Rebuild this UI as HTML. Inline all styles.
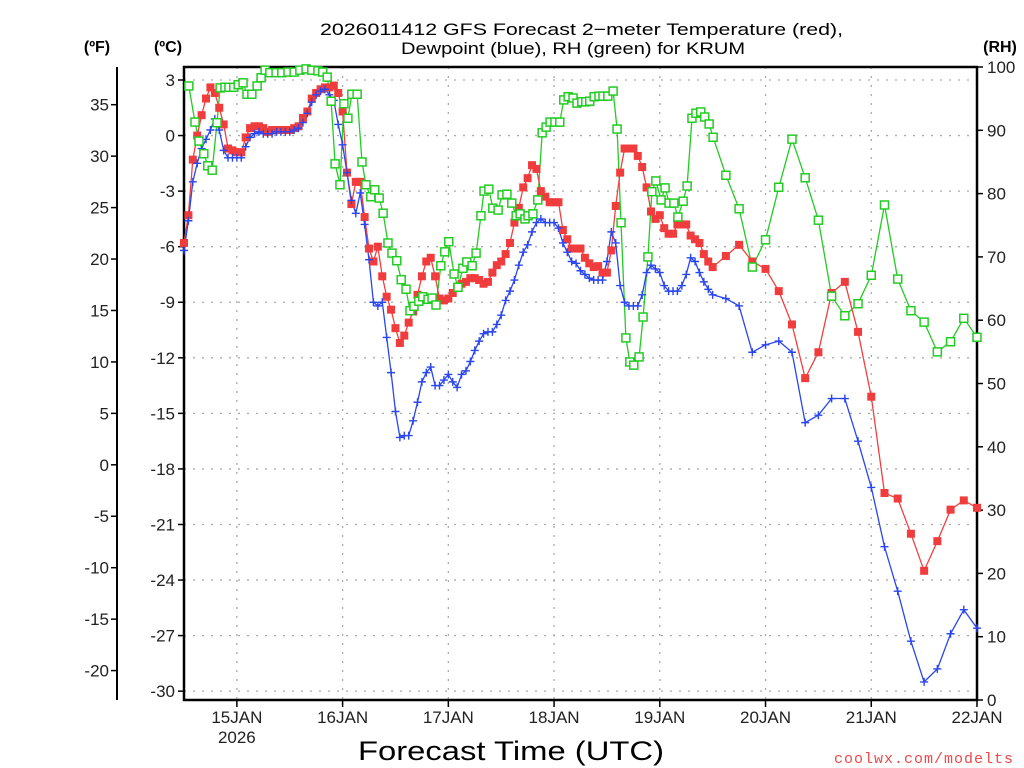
<!DOCTYPE html>
<html><head><meta charset="utf-8"><title>GFS Meteogram KRUM</title>
<style>
html,body{margin:0;padding:0;background:#fff;}
svg{display:block;font-family:"Liberation Sans","DejaVu Sans",sans-serif;}
</style></head>
<body>
<svg id="chart" width="1024" height="768" viewBox="0 0 1024 768" xmlns="http://www.w3.org/2000/svg">
<g id="grid"></g>
<g id="axes"></g>
<g id="series"></g>
<g font-size="17" fill="#000">
<text x="320" y="35" textLength="523" lengthAdjust="spacingAndGlyphs">2026011412 GFS Forecast 2−meter Temperature (red),</text>
<text x="401" y="54" textLength="344" lengthAdjust="spacingAndGlyphs">Dewpoint (blue), RH (green) for KRUM</text>
</g>
<text x="97" y="52" font-size="16" font-weight="bold" text-anchor="middle">(ºF)</text>
<text x="168" y="52" font-size="16" font-weight="bold" text-anchor="middle">(ºC)</text>
<text x="1000" y="52" font-size="16" font-weight="bold" text-anchor="middle">(RH)</text>
<text x="358" y="760" font-size="27" textLength="306" lengthAdjust="spacingAndGlyphs">Forecast Time (UTC)</text>
<text x="1014" y="763" font-size="15" fill="#f04848" text-anchor="end" font-family="Liberation Mono, monospace" letter-spacing="1">coolwx.com/modelts</text>
</svg>
<script>
// ---- data ----
const tempHours = [0,1,2,3,4,5,6,7,8,9,10,11,12,13,14,15,16,17,18,19,20,21,22,23,24,25,26,27,28,29,30,31,32,33,34,35,36,37,38,39,40,41,42,43,44,45,46,47,48,49,50,51,52,53,54,55,56,57,58,59,60,61,62,63,64,65,66,67,68,69,70,71,72,73,74,75,76,77,78,79,80,81,82,83,84,85,86,87,88,89,90,91,92,93,94,95,96,97,98,99,100,101,102,103,104,105,106,107,108,109,110,111,112,113,114,115,116,117,118,119,120,123,126,129,132,135,138,141,144,147,150,153,156,159,162,165,168,171,174,177,180];
const tempC = [-5.8,-4.3,-1.3,0.0,1.1,2.0,2.6,2.3,1.5,0.6,-0.7,-0.8,-0.9,-0.9,-0.1,0.4,0.5,0.5,0.4,0.2,0.3,0.3,0.3,0.3,0.3,0.4,0.5,0.95,1.3,2.0,2.3,2.5,2.6,2.6,2.7,2.3,1.3,-2.0,-3.7,-2.5,-2.5,-4.4,-6.1,-6.8,-6.0,-7.6,-8.7,-9.4,-10.4,-11.2,-10.8,-10.1,-9.5,-8.6,-7.6,-6.8,-6.6,-7.6,-8.8,-8.9,-8.8,-8.5,-8.2,-8.0,-7.9,-7.7,-7.7,-7.8,-8.0,-7.9,-7.4,-7.0,-6.8,-6.4,-5.8,-4.7,-3.9,-2.8,-2.3,-1.6,-1.8,-3.0,-3.3,-3.6,-3.6,-3.6,-5.1,-5.6,-6.1,-6.1,-6.1,-6.6,-6.9,-7.1,-7.05,-7.4,-7.4,-6.2,-3.8,-2.0,-0.7,-0.7,-0.7,-1.1,-1.7,-2.8,-4.1,-4.5,-4.3,-5.0,-5.3,-5.3,-4.8,-4.8,-4.8,-5.4,-5.6,-5.8,-6.4,-6.8,-7.1,-6.5,-5.9,-6.8,-7.2,-8.4,-10.2,-13.1,-11.7,-8.5,-7.9,-10.6,-14.1,-19.3,-19.6,-21.5,-23.5,-21.9,-20.2,-19.7,-20.1];
const dewHours = tempHours;
const dewC = [-6.2,-4.6,-2.5,-1.5,-0.7,-0.2,0.3,0.9,0.3,-0.8,-1.2,-1.2,-1.2,-1.2,-0.6,-0.1,0.1,0.2,0.1,0.1,0.1,0.2,0.2,0.2,0.2,0.3,0.4,0.7,1.2,1.8,2.2,2.4,2.5,2.2,1.9,0.6,-0.5,-2.0,-3.5,-4.2,-3.1,-4.8,-6.7,-9.0,-9.2,-9.0,-10.9,-12.8,-14.9,-16.3,-16.2,-16.2,-15.4,-14.4,-13.3,-12.8,-12.5,-13.5,-13.5,-13.2,-12.9,-13.3,-13.6,-12.9,-12.7,-12.2,-11.6,-11.1,-10.7,-10.6,-10.6,-10.2,-9.7,-8.9,-8.4,-7.8,-7.0,-6.3,-5.9,-5.2,-4.7,-4.5,-4.7,-4.7,-4.7,-5.0,-5.8,-6.3,-6.8,-6.9,-7.3,-7.5,-7.7,-7.8,-7.8,-7.8,-6.8,-5.2,-5.8,-8.1,-9.0,-9.2,-9.2,-9.2,-8.6,-7.4,-7.0,-7.2,-7.4,-8.1,-8.4,-8.4,-8.4,-8.1,-7.5,-6.6,-6.8,-7.4,-7.9,-8.3,-8.6,-8.8,-9.2,-11.7,-11.3,-11.1,-11.7,-15.5,-15.1,-14.2,-14.2,-16.5,-19.0,-22.2,-24.6,-27.3,-29.5,-28.8,-26.9,-25.6,-26.6];
const rhHours = [1.1,2.5,3.4,4.5,5.4,6.4,7.5,8.2,9.3,10.2,11.3,12.3,13.4,14.3,15.4,16.6,17.5,18.4,19.5,20.9,22.2,23.6,25,26.3,27.7,29,30.4,31.5,32.5,33.4,34.3,35.4,36.3,37.2,38.1,39.3,40.4,41.3,42.4,43.3,44.3,45.2,46.3,47.2,48.3,49.3,50.4,51.3,52.2,53.3,54.2,55.4,56.3,57.2,58.3,59.2,60.1,61.3,62.2,63.3,64.2,65.4,66.3,67.4,68.1,69.2,70.1,71.3,72.2,73.3,74.4,75.4,76.3,77.4,78.1,79.2,80.3,81.3,82.2,83.1,84.2,85.3,86.2,87.2,88.3,89.2,90.3,91.2,92.1,93.1,94.2,95.1,96.2,97.4,98.3,99.2,100.3,101.2,102.1,103.3,104.2,105.3,106.2,107.1,108.3,109.2,110.1,111.2,112.1,113.3,114.2,115.3,116.2,117.3,118.2,119.2,120.1,123,126,129,132,135,138,141,144,147,150,153,156,159,162,165,168,171,174,177,180];
const rhPct = [97.0,91.3,88.3,86.3,84.4,83.7,91.2,96.7,96.8,96.8,96.8,97.2,97.5,95.7,95.7,97.0,98.3,99.5,99.1,99.1,99.1,99.2,99.2,99.5,99.7,99.5,99.4,99.2,98.4,94.6,84.7,81.4,94.2,91.9,95.7,95.7,85.0,81.4,79.5,80.6,79.3,76.9,72.2,70.6,69.4,66.4,64.9,61.5,62.2,63.0,63.7,63.3,63.5,62.4,68.6,70.8,72.4,67.3,65.2,68.2,69.2,68.6,70.6,76.5,80.4,80.7,77.7,77.4,79.8,79.9,78.5,76.5,76.8,76.0,76.5,76.8,79.0,89.6,90.5,91.3,91.3,91.3,94.8,95.3,95.1,94.3,94.5,94.5,94.6,95.3,95.4,95.4,95.4,96.2,90.2,75.4,57.2,53.4,52.9,54.2,60.5,70.0,80.3,82.0,79.0,80.9,78.5,78.5,76.3,78.8,81.2,91.9,92.7,92.9,92.1,91.0,88.9,82.9,77.6,68.4,72.7,81.0,88.6,82.5,75.8,63.8,60.7,62.6,67.1,78.2,66.5,61.5,59.7,55.0,56.6,60.3,57.3];
const cTicks = [3,0,-3,-6,-9,-12,-15,-18,-21,-24,-27,-30];
const fTicks = [35,30,25,20,15,10,5,0,-5,-10,-15,-20];
const rhTicks = [100,90,80,70,60,50,40,30,20,10,0];
const dayLabels = ["15JAN","16JAN","17JAN","18JAN","19JAN","20JAN","21JAN","22JAN"];
const dayHours = [12,36,60,84,108,132,156,180];

// ---- scales ----
const L=184,R=977,T=67,B=700;
const xS = h => L + h*(R-L)/180;
const yC = c => 80 + (3-c)*18.52;
const yF = f => yC((f-32)/1.8);
const yRH = r => B - r*(B-T)/100;
const NS="http://www.w3.org/2000/svg";
function mk(tag, attrs, parent){const e=document.createElementNS(NS,tag);for(const k in attrs)e.setAttribute(k,attrs[k]);parent.appendChild(e);return e;}
const grid=document.getElementById('grid'), axes=document.getElementById('axes'), series=document.getElementById('series');

cTicks.forEach(c=>{const l=mk('line',{x1:L,x2:R,y1:yC(c),y2:yC(c),stroke:'#aaa','stroke-width':1.3,'stroke-dasharray':'2 7'},grid);

});
dayHours.slice(0,-1).forEach(h=>{const l=mk('line',{x1:xS(h),x2:xS(h),y1:T,y2:B,stroke:'#aaa','stroke-width':1.3,'stroke-dasharray':'2 7'},grid);

});

const fr=mk('rect',{x:L,y:T,width:R-L,height:B-T,fill:'none',stroke:'#000','stroke-width':2.5},axes);


const fl=mk('line',{x1:117,x2:117,y1:67,y2:700,stroke:'#000','stroke-width':2},axes);



cTicks.forEach(c=>{
  const t=mk('line',{x1:L-6,x2:L,y1:yC(c),y2:yC(c),stroke:'#000','stroke-width':1.5},axes);
  
  
  const tx=mk('text',{x:L-9,y:yC(c)+6,'text-anchor':'end','font-size':17,fill:'#222'},axes);
  tx.textContent=c;
  
  
});
fTicks.forEach(f=>{
  const t=mk('line',{x1:111,x2:117,y1:yF(f),y2:yF(f),stroke:'#000','stroke-width':1.5},axes);
  
  
  const tx=mk('text',{x:109,y:yF(f)+6,'text-anchor':'end','font-size':17,fill:'#222'},axes);
  tx.textContent=f;
  
  
});
rhTicks.forEach(r=>{
  const t=mk('line',{x1:R,x2:R+6,y1:yRH(r),y2:yRH(r),stroke:'#000','stroke-width':1.5},axes);
  
  
  const tx=mk('text',{x:R+10,y:yRH(r)+6,'text-anchor':'start','font-size':17,fill:'#222'},axes);
  tx.textContent=r;
  
  
});
dayHours.forEach((h,i)=>{
  const t=mk('line',{x1:xS(h),x2:xS(h),y1:B,y2:B+7,stroke:'#000','stroke-width':1.5},axes);
  
  
  const tx=mk('text',{x:xS(h),y:B+23,'text-anchor':'middle','font-size':17,fill:'#222'},axes);
  tx.textContent=dayLabels[i];
  
  
});
const yr=mk('text',{x:xS(12),y:B+43,'text-anchor':'middle','font-size':17,fill:'#222'},axes);
yr.textContent='2026';



function line(hs, vs, yf, color, name){
  const pts=hs.map((h,i)=>xS(h).toFixed(1)+','+yf(vs[i]).toFixed(1)).join(' ');
  const p=mk('polyline',{points:pts,fill:'none',stroke:color,'stroke-width':1.3},series);
  
  
}
line(rhHours,rhPct,yRH,'#22cc22','rh-line');
line(tempHours,tempC,yC,'#f04040','temperature-line');
line(dewHours,dewC,yC,'#2a46f0','dewpoint-line');
tempHours.forEach((h,i)=>{
  const m=mk('rect',{x:xS(h)-4,y:yC(tempC[i])-4,width:8,height:8,fill:'#f03c3c'},series);
  
  
});
dewHours.forEach((h,i)=>{
  const x=xS(h),y=yC(dewC[i]);
  const m=mk('path',{d:`M${x-4},${y}H${x+4}M${x},${y-4}V${y+4}`,stroke:'#2a46f0','stroke-width':1.4,fill:'none'},series);
  
  
});
rhHours.forEach((h,i)=>{
  const m=mk('rect',{x:xS(h)-4,y:yRH(rhPct[i])-4,width:8,height:8,fill:'#fff',stroke:'#22cc22','stroke-width':1.5},series);
  
  
});
</script>
</body></html>
